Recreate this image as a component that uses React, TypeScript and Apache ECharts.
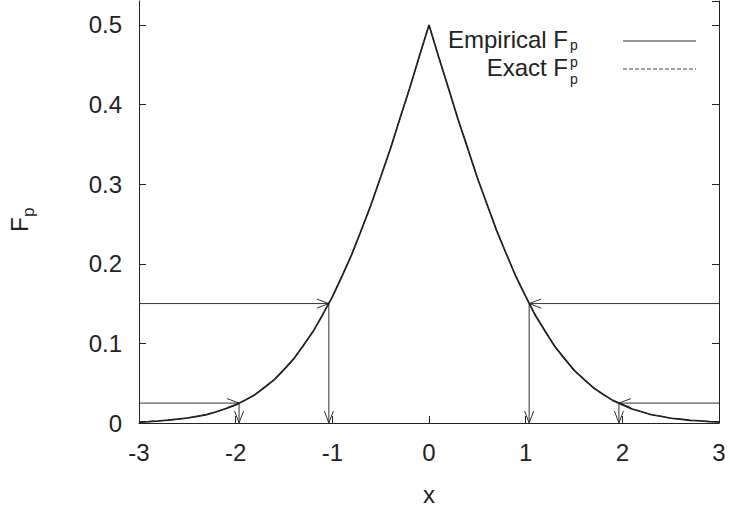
import React, { useEffect, useRef } from "react";
import * as echarts from "echarts";

const xValues = [
  -3.0, -2.9, -2.8, -2.7, -2.6, -2.5, -2.4, -2.3, -2.2, -2.1,
  -2.0, -1.9, -1.8, -1.7, -1.6, -1.5, -1.4, -1.3, -1.2, -1.1,
  -1.0, -0.9, -0.8, -0.7, -0.6, -0.5, -0.4, -0.3, -0.2, -0.1,
  0.0, 0.1, 0.2, 0.3, 0.4, 0.5, 0.6, 0.7, 0.8, 0.9,
  1.0, 1.1, 1.2, 1.3, 1.4, 1.5, 1.6, 1.7, 1.8, 1.9,
  2.0, 2.1, 2.2, 2.3, 2.4, 2.5, 2.6, 2.7, 2.8, 2.9, 3.0,
];

const empiricalFp = [
  0.0010, 0.0017, 0.0025, 0.0036, 0.0049, 0.0063, 0.0084, 0.0105, 0.0141, 0.0182,
  0.0226, 0.0290, 0.0356, 0.0449, 0.0545, 0.0671, 0.0805, 0.0972, 0.1148, 0.1360,
  0.1584, 0.1845, 0.2115, 0.2424, 0.2740, 0.3089, 0.3441, 0.3826, 0.4203, 0.4606,
  0.5000, 0.4597, 0.4211, 0.3815, 0.3452, 0.3080, 0.2748, 0.2416, 0.2123, 0.1837,
  0.1591, 0.1353, 0.1155, 0.0964, 0.0812, 0.0664, 0.0551, 0.0443, 0.0362, 0.0284,
  0.0231, 0.0176, 0.0142, 0.0104, 0.0085, 0.0060, 0.0049, 0.0033, 0.0028, 0.0017, 0.0014,
];

const exactFp = [
  0.0013, 0.0019, 0.0026, 0.0035, 0.0047, 0.0062, 0.0082, 0.0107, 0.0139, 0.0179,
  0.0228, 0.0287, 0.0359, 0.0446, 0.0548, 0.0668, 0.0808, 0.0968, 0.1151, 0.1357,
  0.1587, 0.1841, 0.2119, 0.2420, 0.2743, 0.3085, 0.3446, 0.3821, 0.4207, 0.4602,
  0.5000, 0.4602, 0.4207, 0.3821, 0.3446, 0.3085, 0.2743, 0.2420, 0.2119, 0.1841,
  0.1587, 0.1357, 0.1151, 0.0968, 0.0808, 0.0668, 0.0548, 0.0446, 0.0359, 0.0287,
  0.0228, 0.0179, 0.0139, 0.0107, 0.0082, 0.0062, 0.0047, 0.0035, 0.0026, 0.0019, 0.0013,
];

// quantile arrows: probability levels and where they meet the curve
const arrowLevels = [0.15, 0.025];
const arrowQuantiles = [1.036, 1.965];
const xMin = -3;
const xMax = 3;

const FONT = "Liberation Sans, Helvetica, Arial, sans-serif";
const INK = "#222";
const FS = 24;

export default function App() {
  const ref = useRef<HTMLDivElement>(null);

  useEffect(() => {
    if (!ref.current) return;
    const chart = echarts.init(ref.current, null, { renderer: "svg" });

    const arrows: number[][] = [];
    arrowLevels.forEach((lv, i) => {
      const q = arrowQuantiles[i];
      arrows.push([xMin, lv, -q, lv]);
      arrows.push([-q, lv, -q, 0]);
      arrows.push([xMax, lv, q, lv]);
      arrows.push([q, lv, q, 0]);
    });

    const tickStyle = { show: true, inside: true, length: 7, lineStyle: { color: INK, width: 1 } };

    const option: any = {
      animation: false,
      backgroundColor: "#fff",
      textStyle: { fontFamily: FONT },
      grid: { left: 139, right: 11, top: 1, bottom: 82, containLabel: false },
      xAxis: [
        {
          type: "value",
          min: -3,
          max: 3,
          interval: 1,
          name: "x",
          nameLocation: "middle",
          nameGap: 59,
          nameTextStyle: { fontSize: FS, color: INK, fontFamily: FONT },
          axisLine: { show: true, onZero: false, lineStyle: { color: INK, width: 1 } },
          axisTick: tickStyle,
          axisLabel: { fontSize: FS, color: INK, margin: 17, fontFamily: FONT },
          splitLine: { show: false },
        },
      ],
      yAxis: [
        {
          type: "value",
          min: 0,
          max: 0.53,
          interval: 0.1,
          axisLine: { show: true, onZero: false, lineStyle: { color: INK, width: 1 } },
          axisTick: tickStyle,
          axisLabel: {
            fontSize: FS,
            color: INK,
            margin: 17,
            fontFamily: FONT,
            showMaxLabel: false,
            formatter: (v: number) => (Math.abs(v - 0.53) < 1e-6 ? "" : String(Math.round(v * 10) / 10)),
          },
          splitLine: { show: false },
        },
        {
          type: "value",
          min: 0,
          max: 0.53,
          interval: 0.1,
          position: "right",
          axisLine: { show: true, onZero: false, lineStyle: { color: INK, width: 1 } },
          axisTick: tickStyle,
          axisLabel: { show: false },
          splitLine: { show: false },
        },
      ],
      series: [
        {
          name: "Empirical",
          type: "line",
          data: xValues.map((x, i) => [x, empiricalFp[i]]),
          showSymbol: false,
          symbol: "none",
          lineStyle: { color: "#111", width: 1.7 },
          z: 3,
        },
        {
          name: "Exact",
          type: "line",
          data: xValues.map((x, i) => [x, exactFp[i]]),
          showSymbol: false,
          symbol: "none",
          lineStyle: { color: "#333", width: 1, type: [4, 2] },
          z: 4,
        },
        {
          type: "custom",
          data: arrows,
          z: 2,
          silent: true,
          renderItem: (params: any, api: any) => {
            const p1 = api.coord([api.value(0), api.value(1)]);
            const p2 = api.coord([api.value(2), api.value(3)]);
            const dx = p2[0] - p1[0];
            const dy = p2[1] - p1[1];
            const len = Math.hypot(dx, dy) || 1;
            const ux = dx / len;
            const uy = dy / len;
            const hl = 12;
            const hw = 4.5;
            const bx = p2[0] - ux * hl;
            const by = p2[1] - uy * hl;
            const h1 = [bx - uy * hw, by + ux * hw];
            const h2 = [bx + uy * hw, by - ux * hw];
            return {
              type: "group",
              children: [
                {
                  type: "line",
                  shape: { x1: p1[0], y1: p1[1], x2: p2[0], y2: p2[1] },
                  style: { stroke: "#333", lineWidth: 1 },
                },
                {
                  type: "polyline",
                  shape: { points: [h1, p2, h2] },
                  style: { stroke: "#333", fill: "none", lineWidth: 1 },
                },
              ],
            };
          },
        },
      ],
      graphic: [
        // legend
        {
          type: "text",
          x: 568,
          y: 39,
          style: { text: "Empirical F", font: `${FS}px ${FONT}`, fill: INK, align: "right", verticalAlign: "middle" },
        },
        {
          type: "text",
          x: 570,
          y: 45,
          style: { text: "p", font: `14px ${FONT}`, fill: INK, align: "left", verticalAlign: "middle" },
        },
        {
          type: "line",
          shape: { x1: 623, y1: 41, x2: 696, y2: 41 },
          style: { stroke: "#777", lineWidth: 1.6 },
        },
        {
          type: "text",
          x: 568,
          y: 67,
          style: { text: "Exact F", font: `${FS}px ${FONT}`, fill: INK, align: "right", verticalAlign: "middle" },
        },
        {
          type: "text",
          x: 570,
          y: 62,
          style: { text: "p", font: `14px ${FONT}`, fill: INK, align: "left", verticalAlign: "middle" },
        },
        {
          type: "text",
          x: 570,
          y: 79,
          style: { text: "p", font: `14px ${FONT}`, fill: INK, align: "left", verticalAlign: "middle" },
        },
        {
          type: "line",
          shape: { x1: 623, y1: 69, x2: 696, y2: 69 },
          style: { stroke: "#444", lineWidth: 1, lineDash: [4, 2] },
        },
        // y axis title F_p (rotated)
        {
          type: "group",
          x: 19,
          y: 232,
          rotation: Math.PI / 2,
          children: [
            {
              type: "text",
              x: 0,
              y: 0,
              style: { text: "F", font: `${FS}px ${FONT}`, fill: INK, align: "left", verticalAlign: "middle" },
            },
            {
              type: "text",
              x: 15,
              y: 9,
              style: { text: "p", font: `17px ${FONT}`, fill: INK, align: "left", verticalAlign: "middle" },
            },
          ],
        },
      ],
    };

    chart.setOption(option);
    return () => chart.dispose();
  }, []);

  return (
    <div
      ref={ref}
      style={{ position: "fixed", left: 0, top: 0, width: 730, height: 511, background: "#fff" }}
    />
  );
}
